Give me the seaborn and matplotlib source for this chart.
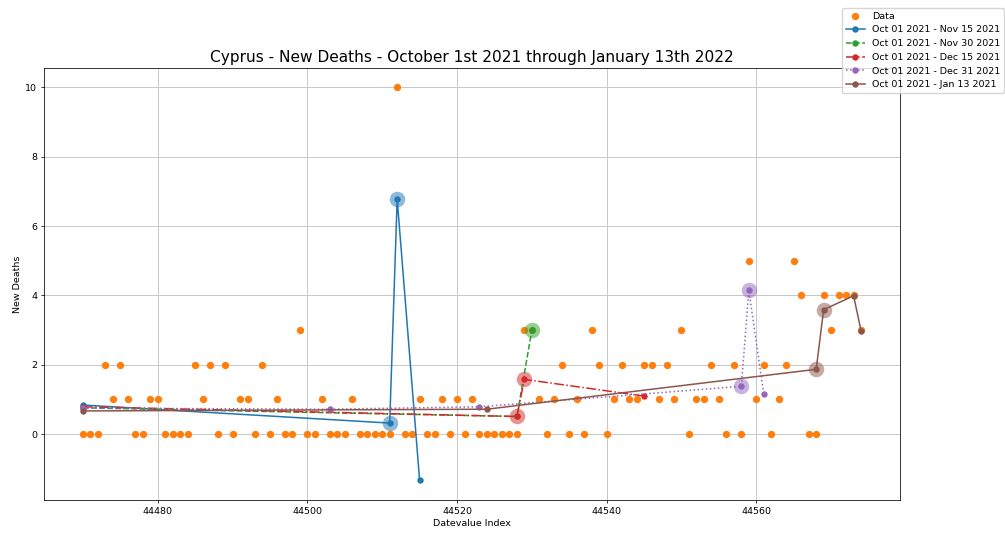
import numpy as np
import matplotlib
matplotlib.use("Agg")
import matplotlib.pyplot as plt
import seaborn as sns

# daily data, Oct 01 2021 (44470) through Jan 13 2022 (44574)
day_index = np.arange(44470, 44575)
new_deaths = [
    0, 0, 0, 2, 1, 2, 1, 0, 0, 1,
    1, 0, 0, 0, 0, 2, 1, 2, 0, 2,
    0, 1, 1, 0, 2, 0, 1, 0, 0, 3,
    0, 0, 1, 0, 0, 0, 1, 0, 0, 0,
    0, 0, 10, 0, 0, 1, 0, 0, 1, 0,
    1, 0, 1, 0, 0, 0, 0, 0, 0, 3,
    3, 1, 0, 1, 2, 0, 1, 0, 3, 2,
    0, 1, 2, 1, 1, 2, 2, 1, 2, 1,
    3, 0, 1, 1, 2, 1, 0, 2, 0, 5,
    1, 2, 0, 1, 2, 5, 4, 0, 0, 4,
    3, 4, 4, 4, 3,
]

# piecewise fits (breakpoints)
nov15_x = [44470, 44511, 44512, 44515]
nov15_y = [0.84, 0.32, 6.78, -1.33]
nov15_hl = [44511, 44512]

nov30_x = [44470, 44528, 44530]
nov30_y = [0.76, 0.51, 3.0]
nov30_hl = [44530]

dec15_x = [44470, 44528, 44529, 44545]
dec15_y = [0.79, 0.51, 1.58, 1.10]
dec15_hl = [44528, 44529]

dec31_x = [44470, 44503, 44523, 44558, 44559, 44561]
dec31_y = [0.75, 0.72, 0.79, 1.38, 4.15, 1.15]
dec31_hl = [44558, 44559]

jan13_x = [44470, 44524, 44568, 44569, 44573, 44574]
jan13_y = [0.67, 0.72, 1.87, 3.59, 3.99, 2.98]
jan13_hl = [44568, 44569]

fits = [
    ("Oct 01 2021 - Nov 15 2021", nov15_x, nov15_y, nov15_hl, "C0", "-"),
    ("Oct 01 2021 - Nov 30 2021", nov30_x, nov30_y, nov30_hl, "C2", "--"),
    ("Oct 01 2021 - Dec 15 2021", dec15_x, dec15_y, dec15_hl, "C3", "-."),
    ("Oct 01 2021 - Dec 31 2021", dec31_x, dec31_y, dec31_hl, "C4", ":"),
    ("Oct 01 2021 - Jan 13 2021", jan13_x, jan13_y, jan13_hl, "C5", "-"),
]

fs = 6.8
fig = plt.figure(figsize=(10.05, 5.33), dpi=100)
ax = fig.add_axes([0.0438, 0.062, 0.8517, 0.811])

sns.scatterplot(x=day_index, y=new_deaths, color="C1", s=28, linewidth=0,
                label="Data", ax=ax, legend=False)

for label, xs, ys, hl, col, ls in fits:
    sns.lineplot(x=xs, y=ys, color=col, linestyle=ls, marker="o", markersize=4.6,
                 mec=col, mew=0, linewidth=1.1, label=label, ax=ax, legend=False)
    hl_y = [ys[xs.index(h)] for h in hl]
    sns.scatterplot(x=hl, y=hl_y, color=col, s=125, alpha=0.5, linewidth=0,
                    ax=ax, legend=False)

ax.grid(True, color="#c8c8c8", linewidth=0.7)
ax.set_axisbelow(True)
ax.set_title("Cyprus - New Deaths - October 1st 2021 through January 13th 2022",
             fontsize=11.1, pad=4)
ax.set_xlabel("Datevalue Index", fontsize=fs, labelpad=2.5)
ax.set_ylabel("New Deaths", fontsize=fs, labelpad=2.5)
ax.tick_params(labelsize=fs, length=2.4, width=0.55, pad=2.4)
for sp in ax.spines.values():
    sp.set_linewidth(0.55)

handles, labels = ax.get_legend_handles_labels()
fig.legend(handles, labels, loc="upper left", bbox_to_anchor=(0.833, 0.994),
           fontsize=fs, borderpad=0.4, labelspacing=0.5, handlelength=2.0)

fig.savefig("out.png", dpi=100)
